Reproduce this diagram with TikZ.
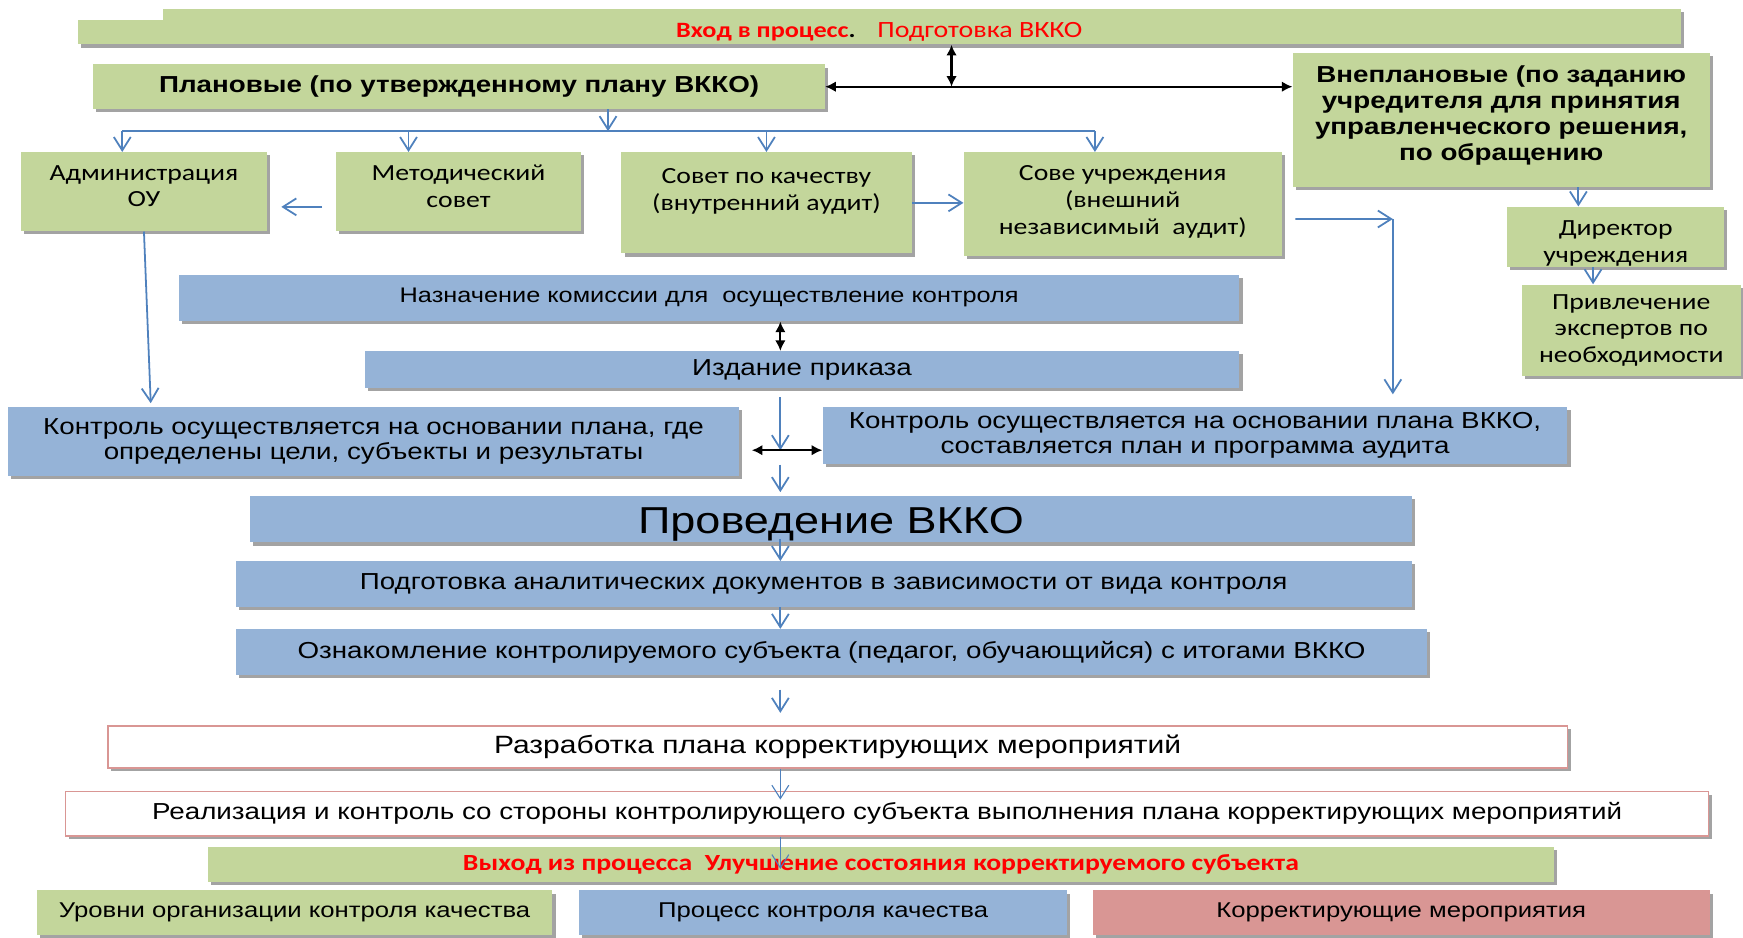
\documentclass[tikz,border=0pt]{standalone}
\usepackage{fontspec}
\setmainfont{Liberation Sans}[FakeStretch=1.2]
\newfontfamily\calfont{Carlito}[FakeStretch=1.2]
\usetikzlibrary{arrows.meta, positioning, calc, shadows}
\definecolor{greenc}{HTML}{C3D69B}
\definecolor{bluec}{HTML}{95B3D7}
\definecolor{redc}{HTML}{D99694}
\definecolor{arrc}{HTML}{4F81BD}
\tikzset{
  box/.style={
    rectangle, inner sep=0pt, align=center,
    drop shadow={shadow xshift=.7mm, shadow yshift=-.7mm, fill=black!45, opacity=.8}
  },
  gbox/.style={box, fill=greenc, font=\calfont\fontsize{14.8}{17}\selectfont},
  hbox/.style={box, fill=greenc, font=\bfseries\fontsize{14.8}{16.5}\selectfont},
  bbox/.style={box, fill=bluec, font=\fontsize{14.8}{16}\selectfont},
  wbox/.style={box, fill=white, draw=redc, line width=.35mm, font=\fontsize{14.8}{16}\selectfont},
  lbox/.style={box, minimum height=10mm, font=\fontsize{13.7}{15}\selectfont},
  bus/.style={draw=arrc, line width=.4mm},
  flow/.style={bus, -{Straight Barb[length=3mm,width=3.8mm]}},
  dbl/.style={draw=black, line width=.5mm,
    {Latex[length=2.4mm,width=2.4mm]}-{Latex[length=2.4mm,width=2.4mm]}}
}
\newcommand\lowertext[2]{\raisebox{-#1}[\height][\depth]{\begin{tabular}{@{}c@{}}#2\end{tabular}}}

\begin{document}
\begin{tikzpicture}[x=0.25mm, y=-0.25mm]
    \useasboundingbox (0,0) rectangle (1568,843);
    \coordinate (sp) at (702,0);
    \coordinate (hub) at (856,0);
    \coordinate (busL) at (110,118);
    \coordinate (busR) at (985,118);
    \coordinate (xC) at (702,405);
    \coordinate (cr) at (1253,197);
    % entry and the two kinds of control
    \fill[greenc, drop shadow={shadow xshift=.7mm, shadow yshift=-.7mm, fill=black!45, opacity=.8}] (147,8) rectangle (1512,18);
    \node[gbox, minimum width=360.5mm, minimum height=5.5mm, font=\calfont\bfseries\fontsize{14}{16}\selectfont] (pIn) at (791,29)
      {\textcolor{red}{Вход в процесс}.\quad{\mdseries\fontsize{14.9}{16}\selectfont\textcolor{red}{Подготовка ВККО}}};
    \node[hbox, minimum width=164.5mm, minimum height=10mm] (pPlan) at (413,78) {Плановые (по утвержденному плану ВККО)};
    \node[hbox, minimum width=93.75mm, minimum height=30mm, text depth=3.1mm] (pUnpl) at (1350.5,108)
      {Внеплановые (по заданию\\учредителя для принятия\\управленческого решения,\\по обращению};
    \node[gbox, minimum width=55.25mm, minimum height=17.75mm, text depth=2.5mm] (pAdm) at (129.5,172.5) {Администрация\\ОУ};
    \node[gbox, minimum width=55.25mm, minimum height=17.75mm, text depth=2.5mm] (pMet) at (412.5,172.5) {Методический\\совет};
    \node[gbox, minimum width=65.25mm, minimum height=22.75mm] (pQual) at (689.5,182.5) {Совет по качеству\\(внутренний аудит)\\\mbox{}};
    \node[gbox, minimum width=71.5mm, minimum height=23.25mm, text depth=1.8mm] (pExt) at (1010,183.5) {Сове учреждения\\(внешний\\независимый\ \ аудит)};
    \node[gbox, minimum width=48.75mm, minimum height=13.5mm] (pDir) at (1453.5,213) {\lowertext{1.6mm}{Директор\\учреждения}};
    \node[gbox, minimum width=49.25mm, minimum height=20.5mm] (pExp) at (1467.5,297) {Привлечение\\экспертов по\\необходимости};
    % process
    \node[bbox, minimum width=238.5mm, minimum height=10.5mm, font=\fontsize{13.5}{16}\selectfont] (pCom) at (638,268)
      {Назначение комиссии для\ \ осуществление контроля};
    \node[bbox, minimum width=196.75mm, minimum height=8.25mm] (pOrd) at (721.5,332.5) {Издание приказа};
    \node[bbox, minimum width=164.5mm, minimum height=15.5mm] (pCtlL) at (336,397)
      {Контроль осуществляется на основании плана, где\\определены цели, субъекты и результаты};
    \node[bbox, minimum width=167.5mm, minimum height=12.75mm] (pCtlR) at (1075,391.5)
      {Контроль осуществляется на основании плана ВККО,\\составляется план и программа аудита};
    \node[bbox, minimum width=261.25mm, minimum height=10.5mm, font=\fontsize{24}{26}\selectfont] (pRun) at (747.5,467)
      {\lowertext{1.5mm}{Проведение ВККО}};
    \node[bbox, minimum width=264.5mm, minimum height=10.25mm] (pDoc) at (741,525.5)
      {Подготовка аналитических документов в зависимости от вида контроля};
    \node[bbox, minimum width=268mm, minimum height=10.25mm] (pAcq) at (748,586.5)
      {Ознакомление контролируемого субъекта (педагог, обучающийся) с итогами ВККО};
    \node[wbox, minimum width=328.25mm, minimum height=9.5mm, font=\fontsize{16}{18}\selectfont] (pDev) at (753.5,672)
      {Разработка плана корректирующих мероприятий};
    \node[wbox, minimum width=369.5mm, minimum height=10mm] (pImp) at (798,732)
      {Реализация и контроль со стороны контролирующего субъекта выполнения плана корректирующих мероприятий};
    \node[gbox, minimum width=302.75mm, minimum height=7.75mm, font=\calfont\bfseries\fontsize{14.8}{16}\selectfont, text=red] (pOut) at (792.5,777.5)
      {Выход из процесса\ \ Улучшение состояния корректируемого субъекта};
    % legend
    \node[lbox, fill=greenc, minimum width=116mm] (pLg1) at (265,821) {Уровни организации контроля качества};
    \node[lbox, fill=bluec, minimum width=109.75mm] (pLg2) at (740.5,821) {Процесс контроля качества};
    \node[lbox, fill=redc, minimum width=138.75mm] (pLg3) at (1260.5,821) {Корректирующие мероприятия};
    % connectors
    \draw[dbl] (pPlan.east) -- (pUnpl.west |- pPlan.east);
    \draw[dbl] (pIn.south -| hub) -- (hub |- pPlan.east);
    \draw[bus] (busL) -- (busR);
    \draw[flow] ([xshift=33.5mm]pPlan.south) -- ([xshift=33.5mm]pPlan.south |- busL);
    \draw[flow] (busL) -- (busL |- pAdm.north);
    \draw[flow] ([xshift=-11.25mm]pMet.north |- busL) -- ([xshift=-11.25mm]pMet.north);
    \draw[flow] (pQual.north |- busL) -- (pQual.north);
    \draw[flow] (busR) -- (busR |- pExt.north);
    \draw[flow, shorten <=3mm, shorten >=3.2mm] ([yshift=-3.4mm]pMet.west) -- ([yshift=-3.4mm]pAdm.east);
    \draw[flow] (pQual.east) -- (pExt.west |- pQual.east);
    \draw[flow, shorten <=3mm] ([yshift=-3.4mm]pExt.east) -- (cr);
    \draw[flow, shorten >=2.75mm] (cr) -- (cr |- pCtlR.north);
    \draw[flow] ([xshift=-8.4mm]pDir.north |- pUnpl.south) -- ([xshift=-8.4mm]pDir.north);
    \draw[flow] ([xshift=-5.1mm]pDir.south) -- ([xshift=-5.1mm]pDir.south |- pExp.north);
    \draw[flow, shorten >=.75mm] (pAdm.south) -- ([xshift=32.25mm]pCtlL.north west);
    \draw[dbl] (pCom.south -| sp) -- (pOrd.north -| sp);
    \draw[flow, shorten <=2mm] (pOrd.south -| sp) -- (xC);
    \draw[dbl, shorten <=2.75mm] (pCtlL.east |- xC) -- (pCtlR.west |- xC);
    \draw[flow, shorten <=3.25mm, shorten >=.75mm] (xC) -- (pRun.north -| sp);
    \draw[flow, shorten <=-.75mm] (pRun.south -| sp) -- (pDoc.north -| sp);
    \draw[flow] (pDoc.south -| sp) -- (pAcq.north -| sp);
    \draw[flow, shorten <=3.25mm, shorten >=2.75mm] (pAcq.south -| sp) -- (pDev.north -| sp);
    \draw[flow, line width=.25mm, shorten >=-2mm] (pDev.south -| sp) -- (pImp.north -| sp);
    \draw[flow, line width=.25mm, shorten >=-5mm] (pImp.south -| sp) -- (pOut.north -| sp);
\end{tikzpicture}
\end{document}
